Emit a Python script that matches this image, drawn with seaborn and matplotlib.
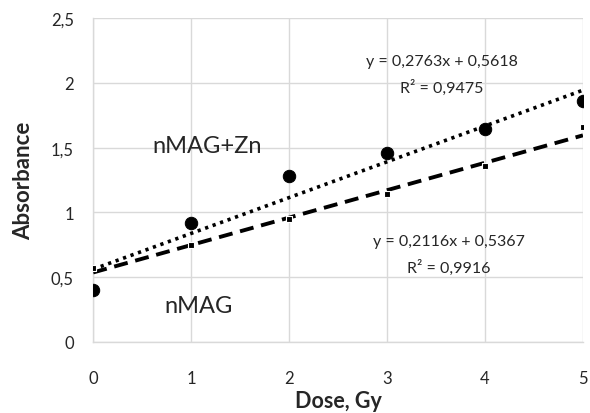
import numpy as np
import pandas as pd
import matplotlib
matplotlib.use("Agg")
import matplotlib.pyplot as plt
import seaborn as sns

dose = [0, 1, 2, 3, 4, 5]
abs_zn = [0.40, 0.92, 1.28, 1.46, 1.64, 1.86]
abs_nmag = [0.57, 0.75, 0.95, 1.14, 1.36, 1.66]
fit_zn = (0.2763, 0.5618)
fit_nmag = (0.2116, 0.5367)
eq_zn = ["y = 0,2763x + 0,5618", "R² = 0,9475"]
eq_nmag = ["y = 0,2116x + 0,5367", "R² = 0,9916"]
yticks = [0, 0.5, 1, 1.5, 2, 2.5]
ytick_labels = ["0", "0,5", "1", "1,5", "2", "2,5"]
xticks = [0, 1, 2, 3, 4, 5]

sns.set_style("white")
plt.rcParams['font.family'] = ['Lato', 'DejaVu Sans']

fig = plt.figure(figsize=(5.9, 4.14), dpi=100)
ax = fig.add_axes([0.158, 0.1715, 0.830, 0.7825])

df = pd.DataFrame({"dose": dose, "zn": abs_zn, "nmag": abs_nmag})
xs = np.array(dose, dtype=float)

# trendlines
ax.plot(xs, fit_zn[0] * xs + fit_zn[1], color="black", lw=2.6, ls=(0, (0.9, 1.3)), zorder=3)
ax.plot(xs, fit_nmag[0] * xs + fit_nmag[1], color="black", lw=2.8, ls=(0, (3.6, 2.0)), zorder=3)

sns.scatterplot(data=df, x="dose", y="zn", ax=ax, color="black", s=80, marker="o",
                edgecolor="black", zorder=4, legend=False)
sns.scatterplot(data=df, x="dose", y="nmag", ax=ax, color="black", s=24, marker="s",
                edgecolor="white", linewidth=0.8, zorder=4, legend=False)

ax.set_xlim(0, 5)
ax.set_ylim(0, 2.5)
ax.set_xticks(xticks)
ax.set_yticks(yticks)
ax.set_yticklabels(ytick_labels)
ax.grid(True, color="#d9d9d9", lw=1)
ax.set_axisbelow(True)
for s in ["top", "right"]:
    ax.spines[s].set_visible(False)
for s in ["left", "bottom"]:
    ax.spines[s].set_color("#d9d9d9")
    ax.spines[s].set_linewidth(1)
ax.tick_params(axis="both", length=0, labelsize=12, colors="#262626")
ax.tick_params(axis="x", pad=20)
ax.tick_params(axis="y", pad=14)

ax.set_xlabel("Dose, Gy", fontsize=15.5, fontweight="bold", labelpad=3, color="#262626")
ax.set_ylabel("Absorbance", fontsize=16, fontweight="bold", labelpad=12, color="#262626")

ax.text(3.56, 2.17, eq_zn[0], ha="center", va="center", fontsize=11.5, color="#262626")
ax.text(3.56, 1.97, eq_zn[1], ha="center", va="center", fontsize=11.5, color="#262626")
ax.text(3.63, 0.78, eq_nmag[0], ha="center", va="center", fontsize=11.5, color="#262626")
ax.text(3.63, 0.58, eq_nmag[1], ha="center", va="center", fontsize=11.5, color="#262626")
ax.text(1.16, 1.52, "nMAG+Zn", ha="center", va="center", fontsize=17, color="#262626")
ax.text(1.08, 0.28, "nMAG", ha="center", va="center", fontsize=17, color="#262626")

fig.savefig("out.png", dpi=100)
